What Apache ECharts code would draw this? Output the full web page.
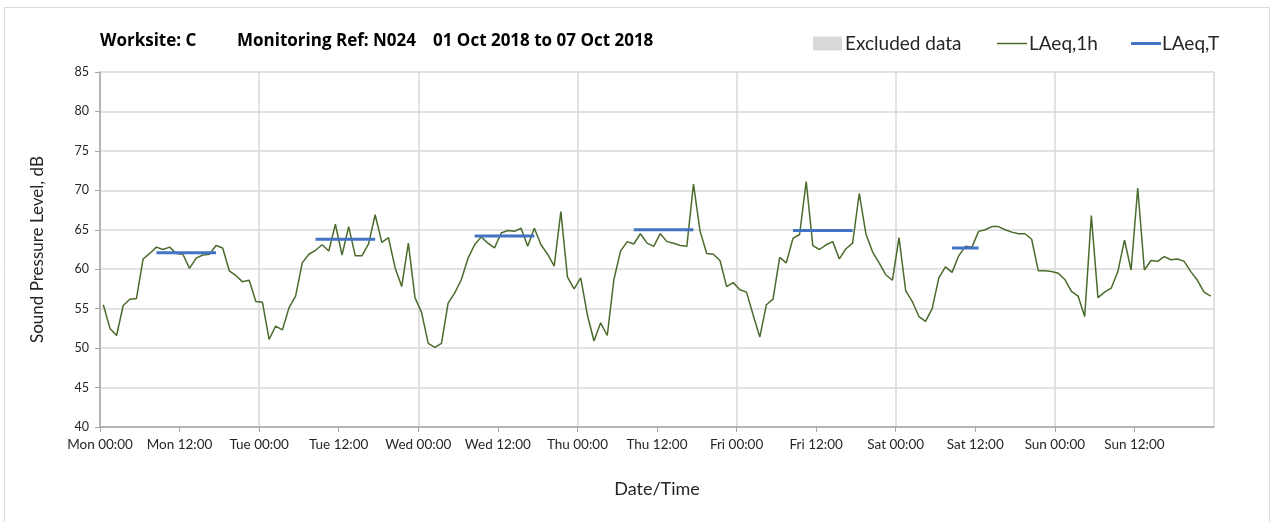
<!DOCTYPE html>
<html>
<head>
<meta charset="utf-8">
<script src="https://cdn.jsdelivr.net/npm/echarts@6/dist/echarts.min.js"></script>
<style>
  html, body { margin: 0; padding: 0; background: #fff; }
  #chart { width: 1274px; height: 522px; }
</style>
</head>
<body>
<div id="chart"></div>
<script>
// hourly LAeq,1h values, Mon 00:00 -> Sun 23:00 (plotted at the middle of each hour)
var laeq1h = [
  55.5, 52.5, 51.6, 55.4, 56.2, 56.3, 61.3, 62.0, 62.8, 62.5, 62.8, 62.0, 61.9, 60.1, 61.4, 61.8, 61.9, 63.0, 62.7, 59.8, 59.2, 58.4, 58.6, 55.9,
  55.8, 51.1, 52.8, 52.3, 55.1, 56.6, 60.8, 61.9, 62.4, 63.1, 62.3, 65.7, 61.8, 65.4, 61.7, 61.7, 63.2, 66.9, 63.4, 64.0, 60.2, 57.8, 63.3, 56.4,
  54.5, 50.6, 50.1, 50.6, 55.7, 57.0, 58.7, 61.4, 63.1, 64.1, 63.3, 62.7, 64.6, 64.9, 64.8, 65.2, 62.9, 65.2, 63.1, 61.9, 60.4, 67.3, 59.0, 57.5,
  58.9, 54.2, 50.9, 53.2, 51.6, 58.7, 62.3, 63.5, 63.2, 64.5, 63.3, 62.9, 64.5, 63.5, 63.3, 63.0, 62.9, 70.8, 64.8, 62.0, 61.9, 61.1, 57.8, 58.3,
  57.4, 57.1, 54.2, 51.4, 55.5, 56.2, 61.5, 60.8, 63.9, 64.4, 71.1, 63.0, 62.5, 63.1, 63.5, 61.3, 62.6, 63.3, 69.6, 64.5, 62.2, 60.8, 59.3, 58.6,
  64.0, 57.3, 55.9, 54.0, 53.4, 55.0, 58.9, 60.3, 59.6, 61.7, 62.9, 62.8, 64.8, 65.0, 65.4, 65.4, 65.0, 64.7, 64.5, 64.5, 63.8, 59.8, 59.8, 59.7,
  59.5, 58.7, 57.2, 56.6, 54.0, 66.8, 56.4, 57.1, 57.6, 59.7, 63.7, 59.9, 70.3, 59.9, 61.1, 61.0, 61.6, 61.2, 61.3, 61.0, 59.7, 58.6, 57.1, 56.6
];

// LAeq,T daytime periods (hours from Mon 00:00)
var periodStart = [8.5, 32.5, 56.5, 80.5, 104.5, 128.5];
var periodEnd   = [17.5, 41.5, 65.5, 89.5, 113.5, 132.5];
var periodLevel = [62.1, 63.8, 64.2, 65.0, 64.9, 62.7];

var dayNames = ['Mon', 'Tue', 'Wed', 'Thu', 'Fri', 'Sat', 'Sun'];

var font = 'Lato';
var textCol = '#262626';

var chartDom = document.getElementById('chart');
var myChart = echarts.init(chartDom);

var hourlyData = laeq1h.map(function (v, i) { return [i + 0.5, v]; });

var series = [
    {
        name: 'Excluded data',
        type: 'bar',
        itemStyle: { color: '#d9d9d9' },
        data: []
    },
    {
        name: 'LAeq,1h',
        type: 'line',
        symbol: 'none',
        lineStyle: { color: '#4a6b2b', width: 1.5 },
        itemStyle: { color: '#4a6b2b' },
        data: hourlyData,
        z: 3
    }
];
periodLevel.forEach(function (lv, k) {
    series.push({
        name: 'LAeq,T',
        type: 'line',
        symbol: 'none',
        lineStyle: { color: '#4472c4', width: 3 },
        itemStyle: { color: '#4472c4' },
        data: [[periodStart[k], lv], [periodEnd[k], lv]],
        z: 4
    });
});

var option = {
    animation: false,
    backgroundColor: '#fff',
    textStyle: { fontFamily: font },
    title: [
        { text: 'Worksite: C', left: 100, top: 33 },
        { text: 'Monitoring Ref: N024', left: 237, top: 33 },
        { text: '01 Oct 2018 to 07 Oct 2018', left: 433, top: 33 }
    ].map(function (t) {
        t.padding = 0;
        t.textStyle = { fontFamily: 'Open Sans', fontSize: 17, fontWeight: 'bold', color: '#000' };
        return t;
    }),
    legend: [
        {
            left: 813, top: 34, padding: 0,
            itemWidth: 29, itemHeight: 14, itemGap: 0,
            icon: 'rect',
            textStyle: { fontFamily: font, fontSize: 19, color: textCol, padding: [0, 0, 0, -2] },
            data: ['Excluded data']
        },
        {
            left: 997, top: 34, padding: 0,
            itemWidth: 30, itemHeight: 1.5,
            icon: 'rect',
            textStyle: { fontFamily: font, fontSize: 19, color: textCol, padding: [0, 0, 0, -3] },
            data: ['LAeq,1h']
        },
        {
            left: 1131, top: 34, padding: 0,
            itemWidth: 30, itemHeight: 3,
            icon: 'rect',
            textStyle: { fontFamily: font, fontSize: 19, color: textCol, padding: [0, 0, 0, -4] },
            data: ['LAeq,T']
        }
    ],
    grid: { left: 100, right: 60, top: 72, bottom: 95 },
    xAxis: [
        {
            type: 'value',
            min: 0,
            max: 168,
            interval: 12,
            name: 'Date/Time',
            nameLocation: 'middle',
            nameGap: 53,
            nameTextStyle: { fontFamily: font, fontSize: 18, color: textCol },
            axisLine: { lineStyle: { color: '#a6a6a6', width: 1.5 } },
            axisTick: { show: true, length: 5, lineStyle: { color: '#a6a6a6' } },
            axisLabel: {
                margin: 11,
                fontFamily: font,
                fontSize: 13.5,
                color: textCol,
                showMaxLabel: false,
                formatter: function (v) {
                    var d = Math.floor(v / 24);
                    if (d >= dayNames.length) return '';
                    return dayNames[d] + ' ' + (v % 24 === 0 ? '00:00' : '12:00');
                }
            },
            splitLine: { show: false }
        },
        {
            type: 'value',
            min: 0,
            max: 168,
            interval: 24,
            position: 'top',
            axisLine: { show: false },
            axisTick: { show: false },
            axisLabel: { show: false },
            splitLine: { show: true, lineStyle: { color: '#d9d9d9', width: 1.5 } }
        }
    ],
    yAxis: {
        type: 'value',
        min: 40,
        max: 85,
        interval: 5,
        name: 'Sound Pressure Level, dB',
        nameLocation: 'middle',
        nameGap: 54,
        nameTextStyle: { fontFamily: font, fontSize: 17, color: textCol },
        axisLine: { show: true, lineStyle: { color: '#a6a6a6', width: 1.5 } },
        axisTick: { show: true, length: 5, lineStyle: { color: '#a6a6a6' } },
        axisLabel: { margin: 11, fontFamily: font, fontSize: 12.5, color: textCol },
        splitLine: { show: true, lineStyle: { color: '#d9d9d9', width: 1.5 } }
    },
    graphic: [
        {
            type: 'rect',
            shape: { x: 4.5, y: 7.5, width: 1265, height: 530 },
            style: { fill: 'none', stroke: '#d9d9d9', lineWidth: 1 },
            silent: true
        }
    ],
    series: series
};

myChart.setOption(option);
</script>
</body>
</html>
